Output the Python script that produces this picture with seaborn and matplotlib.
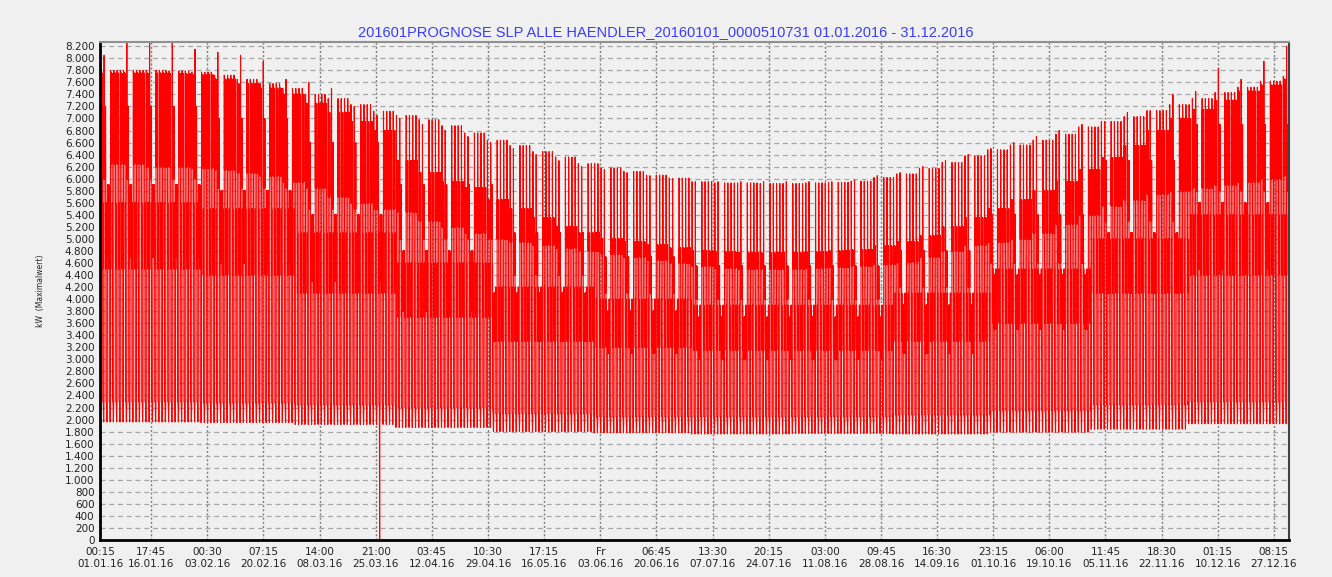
import numpy as np
import pandas as pd
import matplotlib
matplotlib.use("Agg")
import matplotlib.pyplot as plt
import matplotlib.dates as mdates
from matplotlib.ticker import FixedLocator, FuncFormatter
import seaborn as sns

TITLE = "201601PROGNOSE SLP ALLE HAENDLER_20160101_0000510731 01.01.2016 - 31.12.2016"
YLABEL = "kW  (Maximalwert)"

# weekly values (weeks start on Fri 01.01.16), kW
week_peak = [7800, 7800, 7800, 7790, 7770, 7720, 7650, 7580, 7500,
             7400, 7330, 7230, 7120, 7050, 6980, 6880, 6760,
             6640, 6550, 6450, 6360, 6250, 6180, 6120, 6060, 6010,
             5950, 5930, 5930, 5920, 5920, 5930, 5940, 5960,
             6020, 6080, 6170, 6270, 6380, 6480, 6560, 6640, 6740, 6860,
             6950, 7030, 7130, 7230, 7330, 7430, 7520, 7620, 7700]
week_band_hi = [7750, 7750, 7750, 7740, 7720, 7650, 7580, 7500, 7400,
                7250, 7100, 6950, 6800, 6300, 6100, 5950, 5850,
                5650, 5500, 5350, 5200, 5100, 5000, 4950, 4900, 4850,
                4800, 4780, 4770, 4770, 4770, 4780, 4800, 4820,
                4880, 4950, 5050, 5200, 5350, 5500, 5650, 5800, 5950, 6150,
                6350, 6550, 6800, 7000, 7150, 7300, 7450, 7550, 7650]
week_band_lo = [6250, 6250, 6200, 6200, 6180, 6150, 6100, 6050, 5950,
                5850, 5700, 5600, 5500, 5450, 5300, 5200, 5100,
                5000, 4950, 4900, 4850, 4800, 4750, 4700, 4650, 4600,
                4550, 4520, 4500, 4500, 4500, 4520, 4530, 4550,
                4580, 4620, 4700, 4800, 4900, 4950, 5000, 5100, 5250, 5400,
                5550, 5650, 5750, 5800, 5850, 5900, 5950, 6000, 6050]
week_sat_spike = [8050, 8250, 8250, 8250, 8150, 8100, 8050, 7950, 7650,
                  7600, 7500, 7200, 7050, 7000, 6900, 6800, 6700,
                  6600, 6500, 6400, 6300, 6200, 6150, 6100, 6050, 6000,
                  5950, 5950, 5950, 5950, 5950, 5950, 5950, 5980,
                  6050, 6100, 6200, 6300, 6400, 6500, 6600, 6700, 6800, 6900,
                  6950, 7100, 7130, 7400, 7450, 7830, 7650, 7950, 8200]

# monthly values, kW
month_trough = [1960, 1950, 1920, 1870, 1800, 1780, 1760, 1770, 1760, 1790, 1840, 1930]
month_night = [2300, 2280, 2250, 2200, 2100, 2050, 2050, 2050, 2080, 2150, 2250, 2300]
month_evening_hi = [5600, 5500, 5100, 4600, 4200, 4000, 3900, 3900, 4100, 4500, 5000, 5400]
month_evening = [4500, 4400, 4100, 3700, 3300, 3200, 3150, 3150, 3300, 3600, 4100, 4400]
month_sat_hi = [7200, 7000, 6600, 5900, 5100, 4700, 4550, 4550, 4800, 5400, 6300, 6900]
month_sat_lo = [6000, 5850, 5500, 5000, 4400, 4100, 4000, 4000, 4200, 4600, 5300, 5800]
month_sun_hi = [5900, 5800, 5400, 4800, 4100, 3800, 3700, 3700, 3900, 4400, 5100, 5600]
month_sun_lo = [4700, 4600, 4300, 3800, 3300, 3100, 3000, 3000, 3100, 3500, 4100, 4500]

# missing hour at the clock change
dst_gap = ("2016-03-27 02:00", 0)

tick_times = ["2016-01-01 00:15", "2016-01-16 17:45", "2016-02-03 00:30", "2016-02-20 07:15",
              "2016-03-08 14:00", "2016-03-25 21:00", "2016-04-12 03:45", "2016-04-29 10:30",
              "2016-05-16 17:15", "2016-06-03 00:00", "2016-06-20 06:45", "2016-07-07 13:30",
              "2016-07-24 20:15", "2016-08-11 03:00", "2016-08-28 09:45", "2016-09-14 16:30",
              "2016-10-01 23:15", "2016-10-19 06:00", "2016-11-05 11:45", "2016-11-22 18:30",
              "2016-12-10 01:15", "2016-12-27 08:15"]
tick_labels = ["00:15\n01.01.16", "17:45\n16.01.16", "00:30\n03.02.16", "07:15\n20.02.16",
               "14:00\n08.03.16", "21:00\n25.03.16", "03:45\n12.04.16", "10:30\n29.04.16",
               "17:15\n16.05.16", "Fr\n03.06.16", "06:45\n20.06.16", "13:30\n07.07.16",
               "20:15\n24.07.16", "03:00\n11.08.16", "09:45\n28.08.16", "16:30\n14.09.16",
               "23:15\n01.10.16", "06:00\n19.10.16", "11:45\n05.11.16", "18:30\n22.11.16",
               "01:15\n10.12.16", "08:15\n27.12.16"]

start = pd.Timestamp("2016-01-01")
band_hours = list(np.arange(7, 18, 0.5))

rows = []
for d in range(366):
    day = start + pd.Timedelta(days=d)
    wk, mo, dow = d // 7, day.month - 1, day.dayofweek
    if dow < 5:
        hi, lo, top = week_band_hi[wk], week_band_lo[wk], week_peak[wk]
    elif dow == 5:
        hi, lo, top = month_sat_hi[mo], month_sat_lo[mo], week_sat_spike[wk]
    else:
        hi, lo, top = month_sun_hi[mo], month_sun_lo[mo], month_sun_hi[mo]
    hours = [0, 3, 5.5, 6.25] + band_hours + [18.25, 19.0, 19.75, 20.5]
    vals = [month_night[mo], month_trough[mo], month_night[mo], top]
    vals += [hi if i % 2 == 0 else lo for i in range(len(band_hours))]
    vals += [month_evening_hi[mo], month_evening[mo], month_evening_hi[mo], month_night[mo]]
    for h, v in zip(hours, vals):
        rows.append((day + pd.Timedelta(hours=float(h)), v))
rows.append((pd.Timestamp(dst_gap[0]), dst_gap[1]))
df = pd.DataFrame(rows, columns=["time", "kW"]).sort_values("time")

sns.set_theme(style="white")
plt.rcParams["font.family"] = ["DejaVu Sans"]
bg = "#f0f0f0"
fig = plt.figure(figsize=(13.32, 5.77), dpi=100, facecolor=bg)
ax = fig.add_axes([100 / 1332, 1 - 540 / 577, 1189 / 1332, 498 / 577])
ax.set_facecolor(bg)

sns.lineplot(data=df, x="time", y="kW", estimator=None, sort=False,
             color="#ff0000", linewidth=0.8, ax=ax)

ax.set_xlim(pd.Timestamp("2016-01-01"), pd.Timestamp("2017-01-01"))
ax.set_ylim(0, 8270)
ax.yaxis.set_major_locator(FixedLocator(range(0, 8201, 200)))
ax.yaxis.set_major_formatter(FuncFormatter(lambda v, p: f"{int(v):,}".replace(",", ".")))
ax.set_xticks(mdates.date2num(pd.to_datetime(tick_times)))
ax.set_xticklabels(tick_labels)
ax.tick_params(axis="both", labelsize=7.5, colors="#222222", length=2, pad=2)
ax.tick_params(axis="x", pad=3)

ax.yaxis.grid(True, linestyle=(0, (4, 3)), color="#a8a8a8", linewidth=0.9)
ax.xaxis.grid(True, linestyle=(0, (1.5, 1.5)), color="#808080", linewidth=1.0)
ax.set_axisbelow(True)

ax.spines["left"].set_color("black")
ax.spines["left"].set_linewidth(2)
ax.spines["bottom"].set_color("black")
ax.spines["bottom"].set_linewidth(2)
ax.spines["top"].set_color("#909090")
ax.spines["top"].set_linewidth(1.5)
ax.spines["right"].set_color("#404040")
ax.spines["right"].set_linewidth(1.5)

ax.set_xlabel("")
ax.set_ylabel(YLABEL, fontsize=5.5, color="#222222", labelpad=14)
fig.suptitle(TITLE, x=0.5, y=1 - 32 / 577, va="center", fontsize=10.5,
             color="#3b3bff", family=["Liberation Sans", "DejaVu Sans"])

fig.savefig("out.png", dpi=100, facecolor=bg)
